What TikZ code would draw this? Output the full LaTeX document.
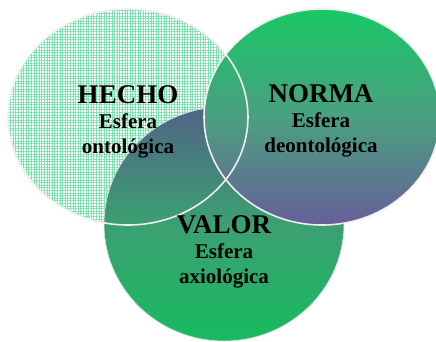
\documentclass[tikz,border=0pt]{standalone}
\usepackage{fontspec}
\setmainfont{Liberation Serif}
\usetikzlibrary{patterns.meta}
\definecolor{brightgreen}{HTML}{18C865}
\definecolor{slatepurple}{HTML}{675E99}
\definecolor{valortop}{HTML}{566A90}
\definecolor{mint}{HTML}{6ADCA6}
\definecolor{rimcol}{HTML}{EEEEEE}
\tikzset{
  title/.style={anchor=base, font=\bfseries\fontsize{27}{27}\selectfont, inner sep=0pt},
  sub/.style={anchor=base, font=\bfseries\fontsize{21}{21}\selectfont, inner sep=0pt},
  rim/.style={draw=rimcol, line width=1.6pt},
}
\begin{document}
\begin{tikzpicture}[x=1pt,y=-1pt]
\useasboundingbox (0,0) rectangle (436,341);
\begin{scope}
\clip (0,0) rectangle (436,341);
% HECHO pattern
\fill[pattern={Lines[angle=0,distance=2.6pt,line width=0.6pt]}, pattern color=mint, opacity=0.8] (128,117) ellipse [x radius=120, y radius=108];
\fill[pattern={Lines[angle=90,distance=2.6pt,line width=0.6pt]}, pattern color=mint, opacity=0.8] (128,117) ellipse [x radius=120, y radius=108];
% VALOR
\fill[top color=valortop, bottom color=brightgreen, middle color={rgb,255:red,64;green,172;blue,122}, fill opacity=0.93] (224,224) ellipse [x radius=120, y radius=117];
\draw[draw=rimcol, line width=0.6pt] (224,224) ellipse [x radius=120, y radius=117];
% NORMA
\fill[top color=brightgreen, bottom color=slatepurple, middle color={rgb,255:red,74;green,160;blue,128}] (322,117) ellipse [x radius=118, y radius=108];
% outlines
\draw[rim] (128,117) ellipse [x radius=120, y radius=108];
\draw[rim] (322,117) ellipse [x radius=118, y radius=108];
\end{scope}
% texts
\node[title] (hecho) at (128,103) {HECHO};
\node[sub] (hecho1) at (128,128) {Esfera};
\node[sub] (hecho2) at (128,153) {ontológica};
\node[title] (norma) at (321,102) {NORMA};
\node[sub] (norma1) at (321,127) {Esfera};
\node[sub] (norma2) at (321,152) {deontológica};
\node[title] (valor) at (224,233) {VALOR};
\node[sub] (valor1) at (224,258) {Esfera};
\node[sub] (valor2) at (224,283) {axiológica};
\end{tikzpicture}
\end{document}
